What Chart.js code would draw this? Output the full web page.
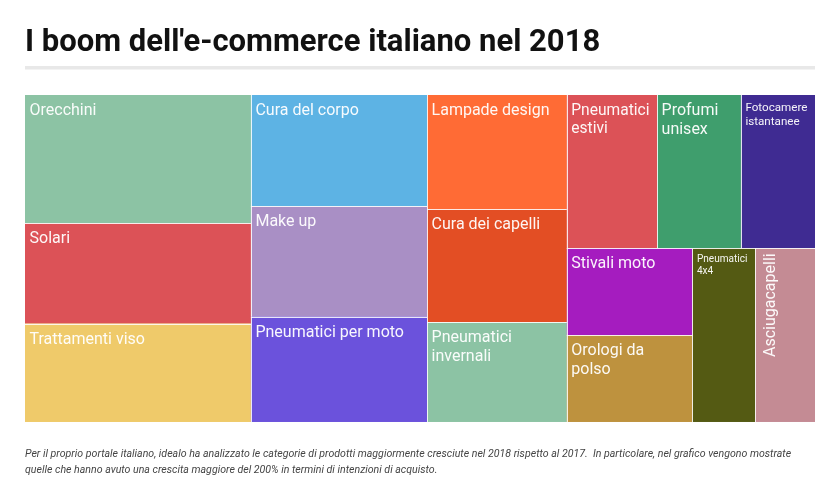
<!DOCTYPE html>
<html lang="it">
<head>
<meta charset="utf-8">
<title>I boom dell'e-commerce italiano nel 2018</title>
<script src="https://cdn.jsdelivr.net/npm/chart.js@4.4.0/dist/chart.umd.min.js"></script>
<style>
  html, body { margin: 0; padding: 0; background: #fff; }
  #wrap { position: relative; width: 840px; height: 500px; }
</style>
</head>
<body>
<div id="wrap"><canvas id="myChart"></canvas></div>
<script>
const categorie = [
    'Orecchini', 'Solari', 'Trattamenti viso',
    'Cura del corpo', 'Make up', 'Pneumatici per moto',
    'Lampade design', 'Cura dei capelli', 'Pneumatici invernali',
    'Pneumatici estivi', 'Profumi unisex', 'Fotocamere istantanee',
    'Stivali moto', 'Orologi da polso', 'Pneumatici 4x4', 'Asciugacapelli'
];
const crescita = [584, 457, 448, 395, 392, 374, 322, 318, 281, 279, 259, 229, 220, 220, 219, 210];
const colori = [
    '#8cc3a4', '#dc5257', '#efca6a',
    '#5db3e4', '#a98fc5', '#6b52dc',
    '#ff6b35', '#e34e24', '#8cc3a4',
    '#dc5257', '#3f9e6d', '#3f2b92',
    '#a51cbf', '#be923e', '#545a13', '#c48b94'
];
const titolo = "I boom dell'e-commerce italiano nel 2018";
const nota = [
    'Per il proprio portale italiano, idealo ha analizzato le categorie di prodotti maggiormente cresciute nel 2018 rispetto al 2017.  In particolare, nel grafico vengono mostrate',
    'quelle che hanno avuto una crescita maggiore del 200% in termini di intenzioni di acquisto.'
];

Chart.defaults.font.family = 'Roboto';

// squarify con rapporto aureo (come d3.treemapSquarify)
const PHI = (1 + Math.sqrt(5)) / 2;
function squarify(values, x0, y0, x1, y1) {
    let rects = [];
    let value = values.reduce((a, b) => a + b, 0);
    let i0 = 0, i1 = 0, n = values.length;
    while (i0 < n) {
        let dx = x1 - x0, dy = y1 - y0;
        let sumValue = values[i1++];
        let minValue = sumValue, maxValue = sumValue;
        let alpha = Math.max(dy / dx, dx / dy) / (value * PHI);
        let beta = sumValue * sumValue * alpha;
        let minRatio = Math.max(maxValue / beta, beta / minValue);
        for (; i1 < n; ++i1) {
            let v = values[i1];
            sumValue += v;
            if (v < minValue) minValue = v;
            if (v > maxValue) maxValue = v;
            beta = sumValue * sumValue * alpha;
            let newRatio = Math.max(maxValue / beta, beta / minValue);
            if (newRatio > minRatio) { sumValue -= v; break; }
            minRatio = newRatio;
        }
        if (dx < dy) {
            let yy = i1 < n ? y0 + dy * sumValue / value : y1;
            let x = x0, k = dx / sumValue;
            for (let i = i0; i < i1; i++) {
                rects[i] = { x0: x, y0: y0, x1: (x += values[i] * k), y1: yy };
            }
            y0 = yy;
        } else {
            let xx = i1 < n ? x0 + dx * sumValue / value : x1;
            let y = y0, k = dy / sumValue;
            for (let i = i0; i < i1; i++) {
                rects[i] = { x0: x0, y0: y, x1: xx, y1: (y += values[i] * k) };
            }
            x0 = xx;
        }
        value -= sumValue;
        i0 = i1;
    }
    return rects;
}

function fitLabel(ctx, text, w) {
    let words = text.split(' ');
    let avail = w - 12;
    ctx.font = '16px Roboto';
    let longest = Math.max(...words.map(p => ctx.measureText(p).width));
    let size = 16;
    if (longest > avail) size = 16 * avail / longest;
    ctx.font = size + 'px Roboto';
    let lines = [], line = '';
    words.forEach(p => {
        let t = line ? line + ' ' + p : p;
        if (line && ctx.measureText(t).width > avail) { lines.push(line); line = p; }
        else line = t;
    });
    lines.push(line);
    return { size: size, lines: lines };
}

const treemapPlugin = {
    id: 'treemap',
    afterDatasetsDraw(chart) {
        const ctx = chart.ctx;
        const area = chart.chartArea;
        const xs = chart.scales.x, ys = chart.scales.y;
        const W = area.right - area.left, H = area.bottom - area.top;
        // layout in pixel-proportional units, then back to 0..1 data units
        const rects = squarify(crescita, 0, 0, W, H).map(r => ({
            x0: r.x0 / W, x1: r.x1 / W, y0: r.y0 / H, y1: r.y1 / H
        }));
        ctx.save();
        rects.forEach((r, i) => {
            const left = xs.getPixelForValue(r.x0), right = xs.getPixelForValue(r.x1);
            const top = ys.getPixelForValue(r.y0), bottom = ys.getPixelForValue(r.y1);
            ctx.fillStyle = colori[i];
            ctx.fillRect(left, top, right - left, bottom - top);
        });
        // white separators
        ctx.strokeStyle = 'rgba(255,255,255,0.85)';
        ctx.lineWidth = 1;
        rects.forEach(r => {
            const left = xs.getPixelForValue(r.x0), right = xs.getPixelForValue(r.x1);
            const top = ys.getPixelForValue(r.y0), bottom = ys.getPixelForValue(r.y1);
            ctx.beginPath();
            if (r.x0 > 0.0001) { const x = Math.round(left) + 0.5; ctx.moveTo(x, top); ctx.lineTo(x, bottom); }
            if (r.y0 > 0.0001) { const y = Math.round(top) + 0.5; ctx.moveTo(left, y); ctx.lineTo(right, y); }
            ctx.stroke();
        });
        // labels
        ctx.fillStyle = 'rgba(255,255,255,0.95)';
        ctx.textBaseline = 'alphabetic';
        rects.forEach((r, i) => {
            const left = xs.getPixelForValue(r.x0), right = xs.getPixelForValue(r.x1);
            const top = ys.getPixelForValue(r.y0), bottom = ys.getPixelForValue(r.y1);
            const w = right - left, h = bottom - top;
            let lab = fitLabel(ctx, categorie[i], w);
            ctx.save();
            if (lab.size < 9 && h > w) {
                lab = fitLabel(ctx, categorie[i], h);
                ctx.translate(left, top);
                ctx.rotate(-Math.PI / 2);
                ctx.textAlign = 'right';
                ctx.font = lab.size + 'px Roboto';
                lab.lines.forEach((l, k) => {
                    ctx.fillText(l, -5, 4 + lab.size + k * lab.size * 1.2);
                });
            } else {
                ctx.textAlign = 'left';
                ctx.font = lab.size + 'px Roboto';
                lab.lines.forEach((l, k) => {
                    ctx.fillText(l, left + 4.5, top + 4 + lab.size + k * lab.size * 1.2);
                });
            }
            ctx.restore();
        });
        ctx.restore();
    },
    beforeDraw(chart) {
        const ctx = chart.ctx;
        ctx.save();
        ctx.fillStyle = '#fff';
        ctx.fillRect(0, 0, chart.width, chart.height);
        // grey rule under the title
        ctx.fillStyle = '#e8e8e8';
        ctx.fillRect(chart.chartArea.left, 66, chart.chartArea.right - chart.chartArea.left, 3.5);
        ctx.restore();
    }
};

const ctx = document.getElementById('myChart');
const myChart = new Chart(ctx, {
    type: 'scatter',
    data: {
        datasets: [{
            label: 'crescita',
            data: [],
            pointRadius: 0
        }]
    },
    options: {
        responsive: true,
        maintainAspectRatio: false,
        animation: false,
        layout: {
            padding: { left: 25, right: 25, top: 0, bottom: 0 }
        },
        scales: {
            x: { type: 'linear', min: 0, max: 1, display: false },
            y: { type: 'linear', min: 0, max: 1, reverse: true, display: false }
        },
        plugins: {
            legend: { display: false },
            tooltip: { enabled: false },
            title: {
                display: true,
                text: titolo,
                align: 'start',
                color: '#111',
                font: { family: 'Roboto', size: 31, weight: 'bold' },
                padding: { top: 24.9, bottom: 32.9 }
            },
            subtitle: {
                display: true,
                position: 'bottom',
                text: nota,
                align: 'start',
                color: '#444',
                font: { family: 'Roboto', size: 10.6, style: 'italic', lineHeight: 1.52 },
                padding: { top: 24.5, bottom: 21.3 }
            }
        }
    },
    plugins: [treemapPlugin]
});
</script>
</body>
</html>
